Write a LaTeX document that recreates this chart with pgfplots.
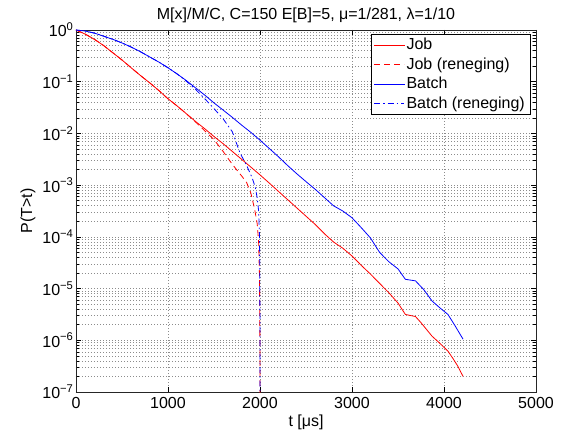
\documentclass[border=0pt]{standalone}
\usepackage{pgfplots}
\pgfplotsset{compat=1.18}
\usepackage{fontspec}
\setmainfont{Liberation Sans}
\begin{document}
\fontsize{16}{18}\selectfont
\begin{tikzpicture}
\path[use as bounding box] (-76pt,-38pt) rectangle (493pt,392pt);
\begin{axis}[
  scale only axis, width=460pt, height=362pt,
  at={(0,0)}, anchor=south west,
  ymode=log,
  xmin=0, xmax=5000, ymin=1e-7, ymax=1,
  xtick={0,1000,2000,3000,4000,5000},
  ytick={1e-7,1e-6,1e-5,1e-4,1e-3,1e-2,1e-1,1},
  yticklabels={10\textsuperscript{−7},10\textsuperscript{−6},10\textsuperscript{−5},10\textsuperscript{−4},10\textsuperscript{−3},10\textsuperscript{−2},10\textsuperscript{−1},10\textsuperscript{0}},
  minor ytick={2e-7,3e-7,4e-7,5e-7,6e-7,7e-7,8e-7,9e-7,
               2e-6,3e-6,4e-6,5e-6,6e-6,7e-6,8e-6,9e-6,
               2e-5,3e-5,4e-5,5e-5,6e-5,7e-5,8e-5,9e-5,
               2e-4,3e-4,4e-4,5e-4,6e-4,7e-4,8e-4,9e-4,
               2e-3,3e-3,4e-3,5e-3,6e-3,7e-3,8e-3,9e-3,
               2e-2,3e-2,4e-2,5e-2,6e-2,7e-2,8e-2,9e-2,
               0.2,0.3,0.4,0.5,0.6,0.7,0.8,0.9},
  /pgf/number format/assume math mode=true,
  /pgf/number format/set thousands separator={},
  tick label style={font=\fontsize{16}{18}\selectfont},
  yticklabel style={xshift=3pt},
  grid=both,
  major grid style={black!45, line width=0.5pt, dash pattern=on 1pt off 2pt},
  minor grid style={black!45, line width=0.5pt, dash pattern=on 1pt off 2pt},
  tick align=inside,
  major tick length=5pt, minor tick length=3pt,
  tick style={black, line width=0.5pt},
  axis line style={black!85, line width=0.8pt},
  title={M[x]/M/C, C=150 E[B]=5, μ=1/281, λ=1/10},
  title style={font=\fontsize{16}{18}\selectfont, yshift=-4pt},
  xlabel={t [μs]},
  ylabel={P(T>t)},
  label style={font=\fontsize{16}{18}\selectfont},
  xlabel style={yshift=5pt},
  ylabel style={yshift=-4pt},
  legend style={at={(rel axis cs:0.987,0.989)}, anchor=north east,
    font=\fontsize{16}{18}\selectfont, cells={anchor=west}, row sep=1.5pt, inner xsep=3pt, inner ysep=2pt},
]
\addlegendimage{legend image code/.code={\fill[red] (0pt,-0.4pt) rectangle (30pt,0.4pt); \draw[draw=red, line width=0.8pt] (0pt,0pt) -- (30pt,0pt); \draw[draw=red, line width=0.8pt] (0pt,0pt) -- (30pt,0pt);}}
\addlegendentry{Job}
\addlegendimage{legend image code/.code={\draw[draw=red, line width=0.8pt, dash pattern=on 6pt off 4pt] (0pt,0pt) -- (30pt,0pt);}}
\addlegendentry{Job (reneging)}
\addlegendimage{legend image code/.code={\fill[blue] (0pt,-0.4pt) rectangle (30pt,0.4pt); \draw[draw=blue, line width=0.8pt] (0pt,0pt) -- (30pt,0pt); \draw[draw=blue, line width=0.8pt] (0pt,0pt) -- (30pt,0pt);}}
\addlegendentry{Batch}
\addlegendimage{legend image code/.code={\draw[draw=blue, line width=0.8pt, dash pattern=on 6pt off 3pt on 1.5pt off 3pt] (0pt,0pt) -- (30pt,0pt);}}
\addlegendentry{Batch (reneging)}
\addplot[color=red, line width=0.8pt, forget plot] coordinates {
(0,1) (100,0.832) (200,0.661) (300,0.501) (400,0.363) (500,0.263) (600,0.186) (700,0.132)
(800,0.0955) (900,0.0676) (1000,0.0468) (1100,0.0339) (1200,0.0240) (1300,0.0170) (1400,0.0123)
(1500,0.00871) (1600,0.00631) (1700,0.00447) (1800,0.00316) (1900,0.00224) (2000,0.00158)
(2100,0.00110) (2200,7.59e-4) (2300,5.25e-4) (2400,3.63e-4) (2500,2.51e-4) (2600,1.74e-4)
(2700,1.15e-4) (2800,7.94e-5) (2900,6.03e-5) (3000,4.27e-5) (3100,2.82e-5) (3200,1.91e-5)
(3300,1.26e-5) (3400,8.32e-6) (3500,5.25e-6) (3580,3.16e-6) (3690,2.88e-6) (3750,2.19e-6)
(3870,1.20e-6) (3950,8.91e-7) (4043,6.17e-7) (4100,4.37e-7) (4150,3.16e-7) (4207,2.0e-7)
};
\addplot[color=red, line width=0.8pt, dash pattern=on 6pt off 4pt, forget plot] coordinates {
(0,1) (100,0.832) (200,0.661) (300,0.501) (400,0.363) (500,0.263) (600,0.186) (700,0.132)
(800,0.0955) (900,0.0676) (1000,0.0468) (1100,0.0339) (1200,0.0240)
(1300,0.0166) (1400,0.0112) (1500,0.00759) (1600,0.00447) (1700,0.00251) (1800,0.00151)
(1855,0.00112) (1900,7.08e-4) (1940,3.55e-4) (1970,1.78e-4) (1985,7.94e-5) (1995,1.58e-5)
(1999,1e-6) (2000,1e-9)
};
\addplot[color=blue, line width=0.8pt, forget plot] coordinates {
(0,1) (100,0.955) (200,0.871) (300,0.759) (400,0.661) (500,0.562) (600,0.468) (700,0.380)
(800,0.302) (900,0.240) (1000,0.186) (1100,0.141) (1200,0.105) (1300,0.0759) (1400,0.0550)
(1500,0.0389) (1600,0.0282) (1700,0.0204) (1800,0.0145) (1900,0.0105) (2000,0.00741)
(2100,0.00513) (2200,0.00355) (2300,0.00240) (2400,0.00166) (2500,0.00117) (2600,8.32e-4)
(2700,5.75e-4) (2800,3.98e-4) (2900,3.16e-4) (3000,2.34e-4) (3100,1.51e-4) (3200,9.55e-5)
(3300,5.01e-5) (3400,3.31e-5) (3500,2.40e-5) (3580,1.51e-5) (3690,1.41e-5) (3780,9.55e-6)
(3870,5.75e-6) (3960,4.17e-6) (4043,3.16e-6) (4120,1.91e-6) (4207,1.05e-6)
};
\addplot[color=blue, line width=0.8pt, dash pattern=on 6pt off 3pt on 1.5pt off 3pt, forget plot] coordinates {
(0,1) (100,0.955) (200,0.871) (300,0.759) (400,0.661) (500,0.562) (600,0.468) (700,0.380)
(800,0.302) (900,0.240) (1000,0.186) (1100,0.141) (1200,0.102)
(1300,0.0708) (1400,0.0468) (1500,0.0302) (1600,0.0191) (1700,0.0107) (1783,0.00417)
(1850,0.00251) (1913,0.00141) (1950,8.91e-4) (1970,5.62e-4) (1985,3.16e-4) (1995,1e-4)
(1999,3.16e-6) (2000,1e-9)
};
\end{axis}
\end{tikzpicture}
\end{document}
